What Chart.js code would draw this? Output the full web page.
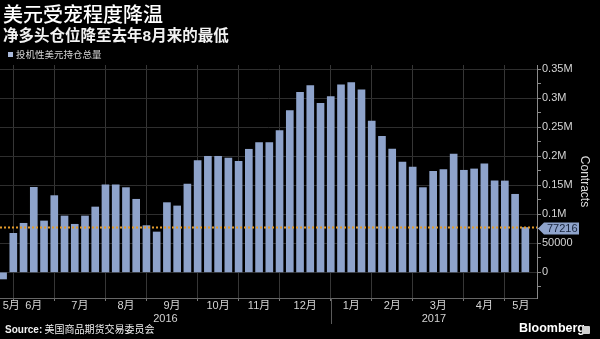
<!DOCTYPE html>
<html>
<head>
<meta charset="utf-8">
<script src="https://cdn.jsdelivr.net/npm/chart.js@4"></script>
<style>
html,body{margin:0;padding:0;background:#000;}
#wrap{position:relative;width:600px;height:339px;background:#000;overflow:hidden;}
#c{position:absolute;left:0;top:0;}
.t{position:absolute;white-space:nowrap;color:#fff;font-family:"Noto Sans CJK SC",sans-serif;}
</style>
</head>
<body>
<div id="wrap">
<canvas id="c" width="600" height="339"></canvas>
<div class="t" style="left:3px;top:1px;font-size:20px;line-height:26px;font-weight:500;">美元受宠程度降温</div>
<div class="t" style="left:3px;top:25px;font-size:15.5px;line-height:18px;font-weight:700;color:#f2f2f2;">净多头仓位降至去年<span style="font-family:'Liberation Sans';font-weight:700;">8</span>月来的最低</div>
<div class="t" style="left:8px;top:48px;font-size:9.5px;line-height:13px;color:#d8d8d8;"><span style="display:inline-block;width:5px;height:5px;background:#a9b9da;margin-right:3px;vertical-align:1px;"></span>投机性美元持仓总量</div>
<div class="t" style="left:5px;top:322px;font-size:10px;line-height:14px;color:#f0f0f0;"><b style="font-family:'Liberation Sans';">Source:</b> 美国商品期货交易委员会</div>
<div class="t" style="left:519px;top:321px;font-size:12.5px;line-height:15px;font-weight:700;font-family:'Liberation Sans';">Bloomberg</div>
<div style="position:absolute;left:582px;top:326px;width:8px;height:8px;background:#cfcfcf;border-radius:1px;"></div>
</div>
<script>
// ---- data ----
const weekDates = [
 '2016-05-27','2016-06-03','2016-06-10','2016-06-17','2016-06-24',
 '2016-07-01','2016-07-08','2016-07-15','2016-07-22','2016-07-29',
 '2016-08-05','2016-08-12','2016-08-19','2016-08-26',
 '2016-09-02','2016-09-09','2016-09-16','2016-09-23','2016-09-30',
 '2016-10-07','2016-10-14','2016-10-21','2016-10-28',
 '2016-11-04','2016-11-11','2016-11-18','2016-11-25',
 '2016-12-02','2016-12-09','2016-12-16','2016-12-23','2016-12-30',
 '2017-01-06','2017-01-13','2017-01-20','2017-01-27',
 '2017-02-03','2017-02-10','2017-02-17','2017-02-24',
 '2017-03-03','2017-03-10','2017-03-17','2017-03-24','2017-03-31',
 '2017-04-07','2017-04-14','2017-04-21','2017-04-28',
 '2017-05-05','2017-05-12','2017-05-19'
];
const netLongs = [
 -11500, 67200, 84500, 146600, 88500,
 132200, 97100, 82800, 97100, 112600,
 150600, 150600, 146000, 125900,
 80500, 69500, 120100, 114400, 152300,
 192500, 200000, 200000, 197100,
 191400, 212100, 223600, 223600,
 244300, 278700, 310300, 321800, 291400,
 302900, 323000, 327000, 314400,
 260900, 234500, 212600, 190200,
 181600, 146000, 174100, 177000, 204000,
 175900, 178200, 186800, 157500,
 157500, 134500, 77216
];
const monthLabels = ['5月','6月','7月','8月','9月','10月','11月','12月','1月','2月','3月','4月','5月'];
const yearLabels = ['2016','2017'];
const yTickValues = [0, 50000, 100000, 150000, 200000, 250000, 300000, 350000];
const yTickLabels = ['0','50000','0.1M','0.15M','0.2M','0.25M','0.3M','0.35M'];
const seriesName = '投机性美元持仓总量';

// ---- derived layout helpers ----
const X_MIN = -0.3, X_MAX = 52.14;
const Y_MIN = -44300, Y_MAX = 357400;
const monthBounds = [], yearBounds = [];
weekDates.forEach((d, i) => {
  if (i === 0) return;
  if (d.slice(0, 7) !== weekDates[i - 1].slice(0, 7)) monthBounds.push(i);
  if (d.slice(0, 4) !== weekDates[i - 1].slice(0, 4)) yearBounds.push(i);
});
const mEdges = [X_MIN, ...monthBounds, X_MAX];
const monthPos = monthLabels.map((_, k) => Math.max((mEdges[k] + mEdges[k + 1]) / 2, X_MIN + 1.1));
const yEdges = [X_MIN, ...yearBounds, X_MAX];
const yearPos = yearLabels.map((_, k) => (yEdges[k] + yEdges[k + 1]) / 2);
const latest = netLongs[netLongs.length - 1];

const BAR = '#8ea3cb';
const TXT = '#d4d4d4';
const NUMFONT = "'Liberation Sans','Noto Sans CJK SC',sans-serif";

const lastValueTag = {
  id: 'lastValueTag',
  afterDraw(chart) {
    const {ctx, scales: {y}} = chart;
    const py = Math.round(y.getPixelForValue(latest)) + 0.5;
    const x0 = y.left + 1;
    ctx.save();
    ctx.fillStyle = BAR;
    ctx.beginPath();
    ctx.moveTo(x0, py);
    ctx.lineTo(x0 + 6, py - 6);
    ctx.lineTo(x0 + 41, py - 6);
    ctx.lineTo(x0 + 41, py + 6);
    ctx.lineTo(x0 + 6, py + 6);
    ctx.closePath();
    ctx.fill();
    ctx.fillStyle = '#17243d';
    ctx.font = '11px ' + NUMFONT;
    ctx.textBaseline = 'middle';
    ctx.textAlign = 'left';
    ctx.fillText(String(latest), x0 + 9, py + 0.5);
    ctx.restore();
  }
};
const yearSeparator = {
  id: 'yearSeparator',
  afterDraw(chart) {
    const {ctx, chartArea, scales: {x, xYear}} = chart;
    ctx.save();
    ctx.strokeStyle = '#5a5a5a';
    ctx.lineWidth = 1;
    yearBounds.forEach(b => {
      const px = Math.round(x.getPixelForValue(b)) + 0.5;
      ctx.beginPath();
      ctx.moveTo(px, chartArea.bottom);
      ctx.lineTo(px, xYear.bottom - 1);
      ctx.stroke();
    });
    ctx.restore();
  }
};

new Chart(document.getElementById('c'), {
  data: {
    datasets: [
      {
        type: 'line',
        label: 'latest',
        data: [{x: X_MIN, y: latest}, {x: X_MAX, y: latest}],
        borderColor: '#e39b2d',
        borderWidth: 2,
        borderDash: [2, 2],
        pointRadius: 0,
        order: 0
      },
      {
        type: 'bar',
        label: seriesName,
        data: netLongs.map((v, i) => ({x: i, y: v})),
        backgroundColor: BAR,
        borderWidth: 0,
        barThickness: 7,
        order: 1
      }
    ]
  },
  options: {
    responsive: false,
    animation: false,
    events: [],
    layout: {padding: {top: 65, bottom: 14, left: 0, right: 0}},
    plugins: {legend: {display: false}, tooltip: {enabled: false}, title: {display: false}},
    scales: {
      x: {
        type: 'linear', position: 'bottom', min: X_MIN, max: X_MAX, weight: 0, offset: false,
        afterBuildTicks: s => {
          s.ticks = [
            ...monthBounds.map(v => ({value: v, b: true, lbl: ''})),
            ...monthPos.map((v, k) => ({value: v, b: false, lbl: monthLabels[k]}))
          ].sort((a, b) => a.value - b.value);
        },
        afterFit: s => { s.height = 14; s.paddingLeft = 0; s.paddingRight = 0; },
        ticks: {
          autoSkip: false, maxRotation: 0, minRotation: 0, padding: -2,
          color: TXT, font: {family: NUMFONT, size: 11},
          callback: (v, i, t) => t[i].lbl
        },
        grid: {
          offset: false,
          color: c => (c.tick && c.tick.b) ? '#363636' : 'rgba(0,0,0,0)',
          tickColor: c => (c.tick && c.tick.b) ? '#777' : 'rgba(0,0,0,0)',
          tickLength: 3, drawTicks: true, lineWidth: 1
        },
        border: {display: true, color: '#666'}
      },
      xYear: {
        type: 'linear', position: 'bottom', min: X_MIN, max: X_MAX, weight: 1, offset: false,
        afterBuildTicks: s => { s.ticks = yearPos.map((v, k) => ({value: v, lbl: yearLabels[k]})); },
        afterFit: s => { s.height = 13; s.paddingLeft = 0; s.paddingRight = 0; },
        ticks: {
          autoSkip: false, maxRotation: 0, minRotation: 0, padding: 0,
          color: TXT, font: {family: NUMFONT, size: 11},
          callback: (v, i, t) => t[i].lbl
        },
        grid: {display: false, drawTicks: false, offset: false},
        border: {display: false}
      },
      y: {
        type: 'linear', position: 'right', min: Y_MIN, max: Y_MAX,
        afterBuildTicks: s => {
          const t = [];
          const step = yTickValues[1] - yTickValues[0];
          t.push({value: yTickValues[0] - step / 2, mj: false, lbl: ''});
          yTickValues.forEach((v, k) => {
            t.push({value: v, mj: true, lbl: yTickLabels[k]});
            if (k < yTickValues.length - 1) t.push({value: v + step / 2, mj: false, lbl: ''});
          });
          s.ticks = t;
        },
        afterFit: s => { s.width = 63; },
        ticks: {
          autoSkip: false, padding: 1, color: TXT,
          font: {family: NUMFONT, size: 11},
          callback: (v, i, t) => t[i].lbl
        },
        grid: {
          color: c => (c.tick && c.tick.mj) ? '#2e2e2e' : 'rgba(0,0,0,0)',
          tickColor: '#8a8a8a', tickLength: 4, lineWidth: 1
        },
        border: {display: true, color: '#8a8a8a'},
        title: {
          display: true, text: 'Contracts', color: '#dcdcdc',
          font: {family: NUMFONT, size: 12}, padding: {top: 8, bottom: 0}
        }
      }
    }
  },
  plugins: [lastValueTag, yearSeparator]
});
</script>
</body>
</html>
